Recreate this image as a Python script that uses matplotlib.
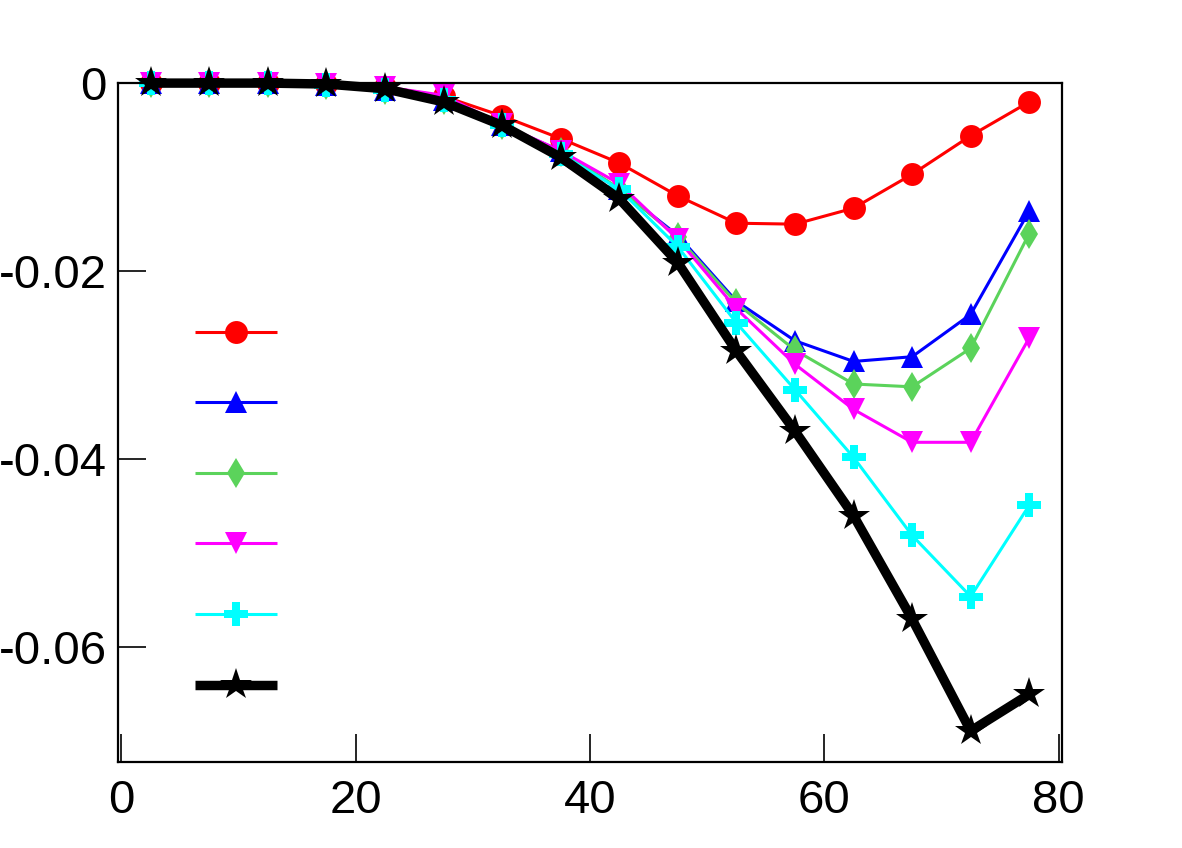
import numpy as np
import matplotlib
matplotlib.use('Agg')
import matplotlib.pyplot as plt

# bin centres
x = [2.5, 7.5, 12.5, 17.5, 22.5, 27.5, 32.5, 37.5,
     42.5, 47.5, 52.5, 57.5, 62.5, 67.5, 72.5, 77.5]

# series
red = [0.0, 0.0, 0.0, -0.0001, -0.0004, -0.0014, -0.0035, -0.0059,
       -0.0085, -0.0120, -0.0149, -0.0150, -0.0133, -0.0097, -0.0056, -0.0020]
blue = [0.0, 0.0, 0.0, -0.0002, -0.0007, -0.0018, -0.0045, -0.0072,
        -0.0113, -0.0162, -0.0232, -0.0274, -0.0296, -0.0291, -0.0246, -0.0136]
green = [0.0, 0.0, 0.0, -0.0002, -0.0007, -0.0018, -0.0045, -0.0073,
         -0.0112, -0.0164, -0.0234, -0.0284, -0.0320, -0.0323, -0.0282, -0.0160]
magenta = [0.0, 0.0, 0.0, -0.0001, -0.0004, -0.0013, -0.0044, -0.0072,
           -0.0107, -0.0166, -0.0240, -0.0299, -0.0347, -0.0382, -0.0382, -0.0271]
cyan = [0.0, 0.0, 0.0, -0.0002, -0.0007, -0.0018, -0.0045, -0.0075,
        -0.0113, -0.0174, -0.0255, -0.0326, -0.0398, -0.0481, -0.0546, -0.0449]
black = [0.0, 0.0, 0.0, -0.0001, -0.0006, -0.0020, -0.0045, -0.0079,
         -0.0123, -0.0191, -0.0285, -0.0370, -0.0460, -0.0570, -0.0689, -0.0650]

xticks = [0, 20, 40, 60, 80]
yticks = [0, -0.02, -0.04, -0.06]
ytick_labels = ['0', '-0.02', '-0.04', '-0.06']

plt.rcParams['font.family'] = ['Liberation Sans', 'DejaVu Sans']

fig = plt.figure(figsize=(11.82, 8.48), dpi=100)
ax = fig.add_axes([0.0998, 0.1014, 0.7987, 0.8006])

styles = [
    (red, '#ff0000', 'o', 16.5, 2.2),
    (blue, '#0000ff', '^', 16.5, 2.2),
    (green, '#5bd35b', 'd', 15, 2.2),
    (magenta, '#ff00ff', 'v', 16.5, 2.2),
    (cyan, '#00ffff', 'P', 17.5, 2.2),
    (black, '#000000', '*', 24, 6.8),
]

handles = []
for ys, col, mk, ms, lw in styles:
    ln, = ax.plot(x, ys, color=col, marker=mk, markersize=ms, lw=lw,
                  markeredgewidth=0, solid_capstyle='butt', clip_on=False)
    handles.append(ln)

ax.set_xlim(-0.3, 80.3)
ax.set_ylim(-0.0722, 0.0)
ax.set_xticks(xticks)
ax.set_yticks(yticks)
ax.set_yticklabels(ytick_labels)
ax.tick_params(direction='in', length=20, width=1.2, labelsize=34,
               top=False, right=False)
ax.tick_params(axis='x', pad=12)
ax.tick_params(axis='y', pad=8)
for sp in ax.spines.values():
    sp.set_linewidth(1.6)

ax.legend(handles, [' '] * 6, loc='upper left', bbox_to_anchor=(0.0816, 0.649),
          frameon=False, fontsize=20, handlelength=2.95, handletextpad=0,
          borderpad=0, borderaxespad=0, labelspacing=1.605)

fig.savefig('out.png', dpi=100)
